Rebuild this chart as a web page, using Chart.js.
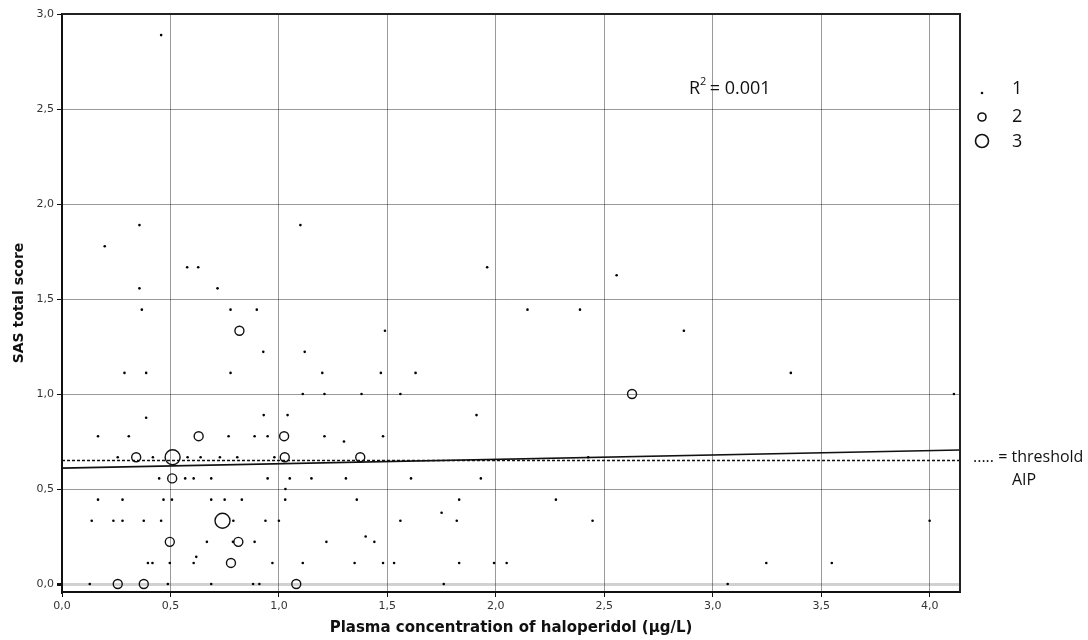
<!DOCTYPE html>
<html>
<head>
<meta charset="utf-8">
<script src="https://cdn.jsdelivr.net/npm/chart.js@4"></script>
<style>
  html, body { margin: 0; padding: 0; background: #fff; }
  #wrap { width: 1088px; height: 640px; }
</style>
</head>
<body>
<div id="wrap"><canvas id="grafico" width="1088" height="640"></canvas></div>
<script>
// pontos com 1 caso
const x1 = [0.457, 0.357, 1.099, 0.197, 0.577, 0.628, 1.96, 2.557, 0.357, 0.717,
  0.368, 0.777, 0.898, 2.146, 2.388, 1.489, 2.867, 0.928, 1.119,
  0.288, 0.388, 0.777, 1.2, 1.47, 1.63, 3.36,
  1.11, 1.21, 1.381, 1.56, 4.112,
  0.93, 1.04, 1.911, 0.388,
  0.166, 0.308, 0.768, 0.888, 0.948, 1.21, 1.48, 1.3,
  0.257, 0.419, 0.579, 0.639, 0.728, 0.808, 0.979, 2.426,
  0.448, 0.568, 0.607, 0.688, 0.948, 1.05, 1.15, 1.309, 1.609, 1.931,
  1.03,
  0.166, 0.279, 0.468, 0.507, 0.688, 0.75, 0.829, 1.029, 1.359, 1.831, 2.277,
  1.75,
  0.137, 0.237, 0.279, 0.377, 0.457, 0.79, 0.938, 1.0, 1.56, 1.82, 2.446, 4.0,
  1.4,
  0.668, 0.788, 0.888, 1.219, 1.44,
  0.619,
  0.396, 0.417, 0.497, 0.607, 0.97, 1.11, 1.349, 1.48, 1.531, 1.831, 1.992, 2.05, 3.247, 3.549,
  0.128, 0.488, 0.688, 0.881, 0.91, 1.76, 3.069];
const y1 = [2.889, 1.889, 1.889, 1.778, 1.667, 1.667, 1.667, 1.625, 1.556, 1.556,
  1.444, 1.444, 1.444, 1.444, 1.444, 1.333, 1.333, 1.222, 1.222,
  1.111, 1.111, 1.111, 1.111, 1.111, 1.111, 1.111,
  1.0, 1.0, 1.0, 1.0, 1.0,
  0.889, 0.889, 0.889, 0.875,
  0.778, 0.778, 0.778, 0.778, 0.778, 0.778, 0.778, 0.75,
  0.667, 0.667, 0.667, 0.667, 0.667, 0.667, 0.667, 0.667,
  0.556, 0.556, 0.556, 0.556, 0.556, 0.556, 0.556, 0.556, 0.556, 0.556,
  0.5,
  0.444, 0.444, 0.444, 0.444, 0.444, 0.444, 0.444, 0.444, 0.444, 0.444, 0.444,
  0.375,
  0.333, 0.333, 0.333, 0.333, 0.333, 0.333, 0.333, 0.333, 0.333, 0.333, 0.333, 0.333,
  0.25,
  0.222, 0.222, 0.222, 0.222, 0.222,
  0.143,
  0.111, 0.111, 0.111, 0.111, 0.111, 0.111, 0.111, 0.111, 0.111, 0.111, 0.111, 0.111, 0.111, 0.111,
  0, 0, 0, 0, 0, 0, 0];

// pontos com 2 casos
const x2 = [0.63, 1.024, 0.342, 1.027, 1.375, 0.508, 0.497, 0.813, 0.779, 0.257, 0.377, 1.08, 0.818, 2.628];
const y2 = [0.778, 0.778, 0.667, 0.667, 0.667, 0.556, 0.222, 0.222, 0.111, 0, 0, 0, 1.333, 1.0];

// pontos com 3 casos
const x3 = [0.51, 0.74];
const y3 = [0.667, 0.333];

// reta de regressão e limiar AIP
const retaX = [0, 4.14];
const retaY = [0.61, 0.705];
const limiarX = [0, 4.14];
const limiarY = [0.65, 0.65];

const ticksX = [0, 0.5, 1.0, 1.5, 2.0, 2.5, 3.0, 3.5, 4.0];
const ticksY = [0, 0.5, 1.0, 1.5, 2.0, 2.5, 3.0];
const legendaTamanhos = ['1', '2', '3'];

const fonte = '"Open Sans", "DejaVu Sans", sans-serif';
const fonteEixo = '"DejaVu Sans", sans-serif';
const pares = (xs, ys) => xs.map((x, i) => ({ x, y: ys[i] }));
const virgula = v => Number(v).toFixed(1).replace('.', ',');

const extras = {
  id: 'extras',
  afterDraw(chart) {
    const { ctx, chartArea: a } = chart;
    ctx.save();
    // moldura superior e direita
    ctx.strokeStyle = '#222';
    ctx.lineWidth = 2;
    ctx.beginPath();
    ctx.moveTo(a.left, a.top);
    ctx.lineTo(a.right, a.top);
    ctx.lineTo(a.right, a.bottom);
    ctx.stroke();

    ctx.fillStyle = '#111';
    ctx.textBaseline = 'alphabetic';
    // R²
    ctx.font = '18px ' + fonte;
    ctx.fillText('R', 689, 94);
    const wR = ctx.measureText('R').width;
    ctx.font = '11px ' + fonte;
    ctx.fillText('2', 689 + wR, 85);
    ctx.font = '18px ' + fonte;
    ctx.fillText(' = 0.001', 689 + wR + 5, 94);

    // legenda de tamanhos
    const raios = [1.3, 4.0, 6.5];
    const yMarca = [93, 117, 141];
    const yTexto = [89, 117, 142];
    legendaTamanhos.forEach((t, i) => {
      ctx.beginPath();
      ctx.arc(982, yMarca[i], raios[i], 0, Math.PI * 2);
      ctx.lineWidth = 1.6;
      ctx.strokeStyle = '#111';
      if (i === 0) ctx.fill(); else ctx.stroke();
      ctx.font = '18px ' + fonte;
      ctx.textBaseline = 'middle';
      ctx.fillText(t, 1012, yTexto[i]);
    });

    // texto do limiar
    ctx.textBaseline = 'alphabetic';
    ctx.font = '16px ' + fonte;
    ctx.fillText('..... = threshold', 973, 462);
    ctx.fillText('AIP', 1012, 485);
    ctx.restore();
  }
};

new Chart(document.getElementById('grafico'), {
  type: 'scatter',
  data: {
    datasets: [
      { data: pares(x1, y1), pointRadius: 1.3, pointBackgroundColor: '#000', pointBorderWidth: 0 },
      { data: pares(x2, y2), pointRadius: 4.5, pointBackgroundColor: 'rgba(255,255,255,0)', pointBorderColor: '#111', pointBorderWidth: 1.4 },
      { data: pares(x3, y3), pointRadius: 7.5, pointBackgroundColor: 'rgba(255,255,255,0)', pointBorderColor: '#111', pointBorderWidth: 1.4 },
      { data: pares(retaX, retaY), showLine: true, pointRadius: 0, borderColor: '#111', borderWidth: 1.6 },
      { data: pares(limiarX, limiarY), showLine: true, pointRadius: 0, borderColor: '#111', borderWidth: 1.4, borderDash: [3, 2] }
    ]
  },
  options: {
    responsive: false,
    animation: false,
    layout: { padding: { left: 0, right: 128, top: 14, bottom: 0 } },
    plugins: { legend: { display: false }, tooltip: { enabled: false } },
    scales: {
      x: {
        type: 'linear', min: 0, max: 4.14,
        afterBuildTicks: s => { s.ticks = ticksX.map(v => ({ value: v })); },
        afterFit: s => { s.height = 48; },
        ticks: { callback: virgula, color: '#333', font: { family: fonteEixo, size: 11 }, maxRotation: 0, padding: 3 },
        grid: { color: 'rgba(0,0,0,0.4)', lineWidth: 1, tickLength: 5, tickColor: '#111' },
        border: { display: true, color: '#111', width: 2 },
        title: { display: true, text: 'Plasma concentration of haloperidol (µg/L)', color: '#111',
          font: { family: fonteEixo, size: 15, weight: 'bold' }, padding: { top: 0, bottom: 3 } }
      },
      y: {
        type: 'linear', min: -0.042, max: 3.0,
        afterBuildTicks: s => { s.ticks = ticksY.map(v => ({ value: v })); },
        afterFit: s => { s.width = 62; },
        ticks: { callback: virgula, color: '#333', font: { family: fonteEixo, size: 11 }, padding: 3 },
        grid: {
          color: c => (c.tick && c.tick.value === 0) ? 'rgba(0,0,0,0.18)' : 'rgba(0,0,0,0.4)',
          lineWidth: c => (c.tick && c.tick.value === 0) ? 3 : 1,
          tickLength: 5, tickColor: '#111'
        },
        border: { display: true, color: '#111', width: 2 },
        title: { display: true, text: 'SAS total score', color: '#111',
          font: { family: fonteEixo, size: 14, weight: 'bold' }, padding: { top: 11, bottom: 0 } }
      }
    }
  },
  plugins: [extras]
});
</script>
</body>
</html>
